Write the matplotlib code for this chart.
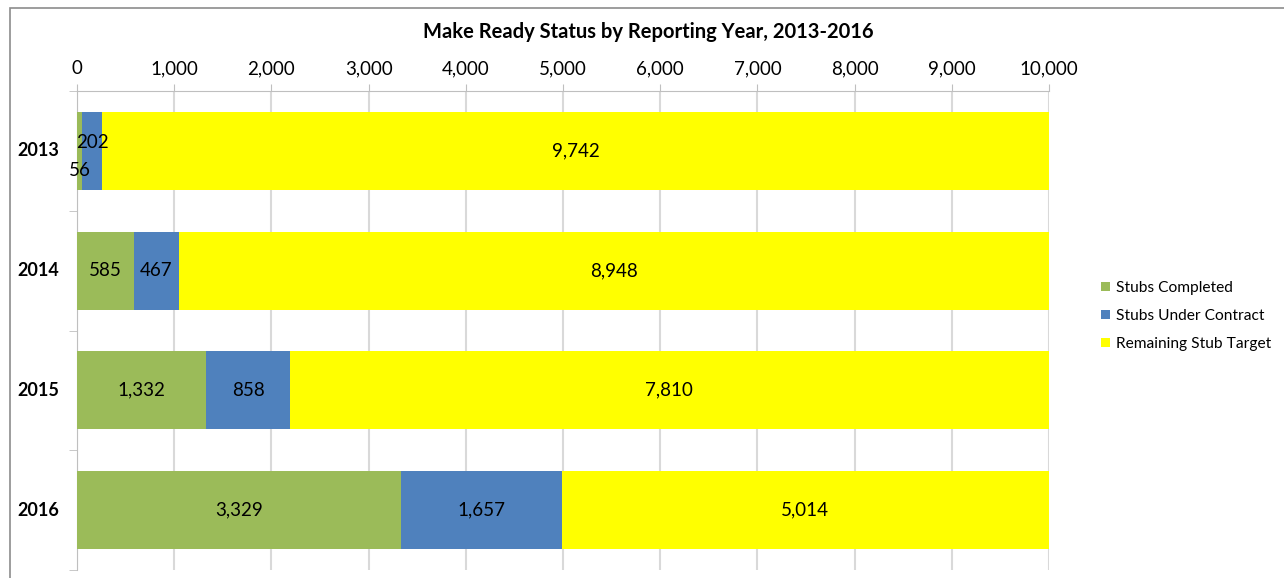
import matplotlib.pyplot as plt
import matplotlib.transforms as mtransforms
from matplotlib.patches import Rectangle
from matplotlib.ticker import FuncFormatter

plt.rcParams['font.family'] = ['Lato', 'DejaVu Sans']

years = ['2013', '2014', '2015', '2016']
completed = [56, 585, 1332, 3329]
under_contract = [202, 467, 858, 1657]
remaining = [9742, 8948, 7810, 5014]
series_names = ['Stubs Completed', 'Stubs Under Contract', 'Remaining Stub Target']
colors = ['#9BBB59', '#4F81BD', '#FFFF00']

fig = plt.figure(figsize=(12.84, 5.78), dpi=100)
# outer chart frame (only top and left visible in the crop)
fig.patches.append(Rectangle((10 / 1284, -0.05), 1.2, 1 - 8 / 578 + 0.05,
                             transform=fig.transFigure, fill=False,
                             edgecolor='#8c8c8c', lw=1.2))

ax = fig.add_axes([77 / 1284, 1 - 570 / 578, (1049 - 77) / 1284, (570 - 91) / 578])

ypos = list(range(len(years)))
left = [0] * len(years)
for vals, name, c in zip([completed, under_contract, remaining], series_names, colors):
    bars = ax.barh(ypos, vals, left=left, height=0.65, color=c, label=name, zorder=3)
    for i, (b, v) in enumerate(zip(bars, vals)):
        cx = b.get_x() + b.get_width() / 2
        cy = b.get_y() + b.get_height() / 2
        if years[i] == '2013' and name == 'Stubs Completed':
            cy += 0.16
        elif years[i] == '2013' and name == 'Stubs Under Contract':
            cy -= 0.07
        ax.text(cx, cy, f'{v:,}', ha='center', va='center', fontsize=13.5,
                color='black', zorder=4)
    left = [l + v for l, v in zip(left, vals)]

ax.set_xlim(0, 10000)
ax.set_ylim(3.5, -0.5)
ax.set_xticks(range(0, 10001, 1000))
ax.xaxis.set_major_formatter(FuncFormatter(lambda x, p: f'{int(x):,}'))
ax.xaxis.tick_top()
ax.tick_params(axis='x', length=5, color='#bfbfbf', labelsize=13.5, pad=5)
ax.grid(axis='x', color='#d9d9d9', lw=1.5, zorder=0)

# category labels drawn as text so they can be centred like Excel does
ax.set_yticks(ypos)
ax.set_yticklabels([])
ax.set_yticks([-0.5, 0.5, 1.5, 2.5, 3.5], minor=True)
ax.tick_params(axis='y', which='major', length=0)
ax.tick_params(axis='y', which='minor', length=6, color='#bfbfbf')
trans = mtransforms.blended_transform_factory(ax.transAxes, ax.transData)
for y, yr in zip(ypos, years):
    ax.text(-39 / 972, y, yr, transform=trans, ha='center', va='center',
            fontsize=13, fontweight='bold')

for s in ['right', 'bottom']:
    ax.spines[s].set_visible(False)
ax.spines['top'].set_color('#bfbfbf')
ax.spines['left'].set_color('#bfbfbf')

fig.text(648 / 1284, 1 - 32 / 578, 'Make Ready Status by Reporting Year, 2013-2016',
         ha='center', va='center', fontsize=14.5, fontweight='bold')

fig.legend(loc='center left', bbox_to_anchor=(1087 / 1284, 1 - 316 / 578),
           frameon=False, fontsize=11.2, handlelength=0.6, handleheight=0.6,
           handletextpad=0.35, labelspacing=0.9)

fig.savefig('out.png', dpi=100)
